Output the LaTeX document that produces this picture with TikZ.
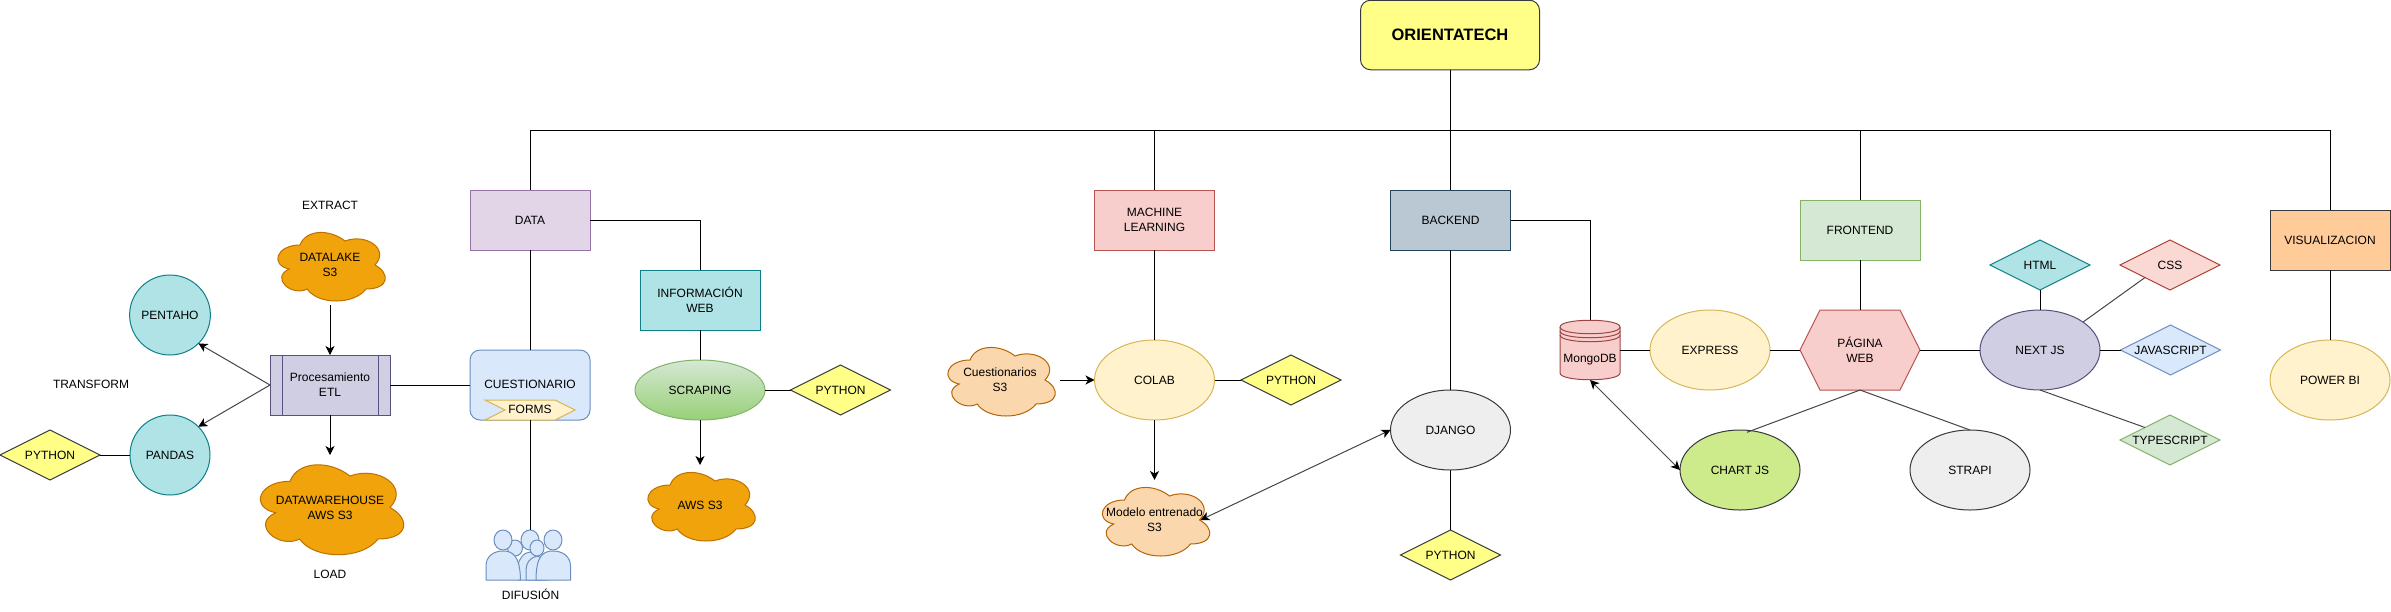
\documentclass[tikz,border=0pt]{standalone}
\usepackage{fontspec}
\setmainfont{Liberation Sans}
\usetikzlibrary{shapes.geometric,arrows.meta}
\definecolor{yelF}{HTML}{FFFF88}\definecolor{darkS}{HTML}{36393D}
\definecolor{purF}{HTML}{E1D5E7}\definecolor{purS}{HTML}{9673A6}
\definecolor{bluF}{HTML}{DAE8FC}\definecolor{bluS}{HTML}{6C8EBF}
\definecolor{creF}{HTML}{FFF2CC}\definecolor{creS}{HTML}{D6B656}
\definecolor{teaF}{HTML}{B0E3E6}\definecolor{teaS}{HTML}{0E8088}
\definecolor{grnF}{HTML}{D5E8D4}\definecolor{grnS}{HTML}{82B366}\definecolor{grnB}{HTML}{97D077}
\definecolor{redF}{HTML}{F8CECC}\definecolor{redS}{HTML}{B85450}
\definecolor{lavF}{HTML}{D0CEE2}\definecolor{lavS}{HTML}{56517E}
\definecolor{oraF}{HTML}{F0A30A}\definecolor{oraS}{HTML}{BD7000}
\definecolor{peaF}{HTML}{FAD7AC}\definecolor{peaS}{HTML}{B46504}
\definecolor{navF}{HTML}{BAC8D3}\definecolor{navS}{HTML}{23445D}
\definecolor{gryF}{HTML}{EEEEEE}\definecolor{limF}{HTML}{CDEB8B}
\definecolor{apiF}{HTML}{FFCC99}\definecolor{cssF}{HTML}{FAD9D5}\definecolor{cssS}{HTML}{AE4132}
\definecolor{diagS}{HTML}{454545}
\tikzset{
  base/.style={inner sep=0pt,outer sep=0pt,line width=1pt,align=center,font=\fontsize{12}{15}\selectfont,text=black},
  box/.style={base,rectangle,minimum width=120pt,minimum height=60pt},
  ell/.style={base,ellipse,minimum width=120pt,minimum height=80pt},
  dia/.style={base,diamond,aspect=2,minimum width=100pt,minimum height=50pt},
  plain/.style={base},
  wire/.style={line width=1pt,black},
  tipA/.tip={Stealth[length=9pt,width=9pt,inset=2.5pt,color=black,fill=black]},
  arrowline/.style={wire,-tipA},
  diag/.style={line width=1pt,diagS},
  diagarrow/.style={diag,tipA-tipA},
  diagtip/.style={diag,-tipA},
  pers/.style={line width=1pt,draw=bluS,fill=bluF,line join=round},
}
\newcommand{\cloudnode}[7]{% name,left,top,w,h,style,text
  \begin{scope}[shift={(#2,#3)},x=#4pt,y=-#5pt]
    \path[line width=1pt,#6] (0.25,0.25)
      .. controls (0.05,0.25) and (0,0.5) .. (0.16,0.55)
      .. controls (0,0.66) and (0.18,0.9) .. (0.31,0.8)
      .. controls (0.4,1) and (0.7,1) .. (0.8,0.8)
      .. controls (1,0.8) and (1,0.6) .. (0.875,0.5)
      .. controls (1,0.3) and (0.8,0.1) .. (0.625,0.2)
      .. controls (0.5,0.05) and (0.3,0.05) .. (0.25,0.25) -- cycle;
    \node[base,rectangle,minimum width=#4pt,minimum height=#5pt] (#1) at (0.5,0.5) {#7};
  \end{scope}}
\begin{document}
\begin{tikzpicture}[x=1pt,y=-1pt]
\useasboundingbox (0,0) rectangle (2391,611);
\coordinate (busL) at (530,130);
\coordinate (busR) at (2330,130);
% --- top
\node[base,rectangle,rounded corners=10pt,minimum width=179pt,minimum height=69.5pt,draw=darkS,fill=yelF,font=\fontsize{16.5}{18}\selectfont\bfseries] (root) at (1450,35) {ORIENTATECH};
% --- main boxes
\node[box,draw=purS,fill=purF] (data) at (530,220) {DATA};
\node[box,draw=redS,fill=redF] (ml) at (1154.5,220) {MACHINE\\LEARNING};
\node[box,draw=navS,fill=navF] (backend) at (1450.5,220) {BACKEND};
\node[box,draw=grnS,fill=grnF] (frontend) at (1860,230) {FRONTEND};
\node[box,draw=darkS,fill=apiF] (visual) at (2330,240) {VISUALIZACION};
% --- data branch
\node[base,rectangle,rounded corners=10pt,minimum width=120pt,minimum height=70pt,draw=bluS,fill=bluF] (cues) at (530,385) {};
\node[plain] (cuestxt) at (530,384) {CUESTIONARIO};
\path[line width=1pt,draw=creS,fill=creF] (485,400) -- (555,400) -- (575,410) -- (555,420) -- (485,420) -- (505,410) -- cycle;
\node[plain] (forms) at (530,409) {FORMS};
\node[box,draw=teaS,fill=teaF] (info) at (700,300) {INFORMACIÓN\\WEB};
\node[ell,minimum width=130pt,minimum height=60pt,draw=grnS,top color=grnF,bottom color=grnB] (scrap) at (700,390) {SCRAPING};
\node[dia,draw=darkS,fill=yelF] (pyscrap) at (840.5,390) {\makebox[0pt]{PYTHON}};
\cloudnode{aws}{640}{465}{120}{80}{draw=oraS,fill=oraF}{AWS S3}
% people
\begin{scope}
  \draw[pers] (530,540) circle[x radius=9pt,y radius=10pt];
  \draw[pers] (515,548) circle[x radius=7.5pt,y radius=8pt];
  \draw[pers] (518,580) -- (518,566) .. controls (518,560) and (524,552) .. (530,552) .. controls (536,552) and (542,560) .. (542,566) -- (542,580) -- cycle;
  \draw[pers] (526,580) -- (526,572) .. controls (526,562) and (530,558) .. (537,556) .. controls (544,558) and (548,562) .. (548,572) -- (548,580) -- cycle;
  \draw[pers] (537,548) circle[x radius=7pt,y radius=8pt];
  \draw[pers] (486,580) -- (486,566) .. controls (486,556) and (494,551) .. (503,551) .. controls (513,551) and (520,556) .. (520.5,580) -- cycle;
  \draw[pers] (503,540) circle[x radius=9pt,y radius=10pt];
  \draw[pers] (536,580) .. controls (536,556) and (543,551) .. (553,551) .. controls (562,551) and (570.5,556) .. (570.5,566) -- (570.5,580) -- cycle;
  \draw[pers] (553,540) circle[x radius=9pt,y radius=10pt];
\end{scope}
\node[base,rectangle,minimum width=86pt,minimum height=50pt] (people) at (528,555) {};
\node[plain] (difusion) at (530.5,594) {DIFUSIÓN};
% --- ETL
\node[base,rectangle,minimum width=120pt,minimum height=60pt,draw=lavS,fill=lavF] (etl) at (330,385) {Procesamiento\\ETL};
\draw[line width=1pt,lavS] ([xshift=12pt]etl.north west) -- ([xshift=12pt]etl.south west);
\draw[line width=1pt,lavS] ([xshift=-12pt]etl.north east) -- ([xshift=-12pt]etl.south east);
\cloudnode{dlake}{270}{225}{120}{80}{draw=oraS,fill=oraF}{DATALAKE\\S3}
\cloudnode{dware}{250}{455}{160}{105}{draw=oraS,fill=oraF}{DATAWAREHOUSE\\AWS S3}
\node[ell,minimum width=80pt,draw=teaS,fill=teaF] (pentaho) at (170,315) {PENTAHO};
\node[ell,minimum width=80pt,draw=teaS,fill=teaF] (pandas) at (170,455) {PANDAS};
\node[dia,draw=darkS,fill=yelF] (pypandas) at (50,455) {\makebox[0pt]{PYTHON}};
\node[plain] (extract) at (330,205) {EXTRACT};
\node[plain] (transform) at (91,384) {TRANSFORM};
\node[plain] (load) at (330,574) {LOAD};
% --- ML branch
\node[ell,draw=creS,fill=creF] (colab) at (1154.5,380) {COLAB};
\node[dia,draw=darkS,fill=yelF] (pycolab) at (1291,380) {\makebox[0pt]{PYTHON}};
\cloudnode{cuecloud}{940}{340}{120}{80}{draw=peaS,fill=peaF}{Cuestionarios\\S3}
\cloudnode{modelo}{1094.5}{480}{120}{80}{draw=peaS,fill=peaF}{Modelo entrenado\\S3}
% --- backend branch
\node[ell,draw=darkS,fill=gryF] (django) at (1450.5,430) {DJANGO};
\node[dia,draw=darkS,fill=yelF] (pydjango) at (1450.5,555) {\makebox[0pt]{PYTHON}};
\path[line width=1pt,draw=redS!85!black,fill=redF] (1560,327)
  .. controls (1560,318) and (1620,318) .. (1620,327) -- (1620,373)
  .. controls (1620,382) and (1560,382) .. (1560,373) -- cycle;
\draw[line width=1pt,redS!85!black] (1560,327) .. controls (1560,336) and (1620,336) .. (1620,327)
  (1560,331) .. controls (1560,340) and (1620,340) .. (1620,331)
  (1560,335) .. controls (1560,344) and (1620,344) .. (1620,335);
\node[base,rectangle,minimum width=60pt,minimum height=60pt] (mongo) at (1590,350) {};
\node[plain] (mongotxt) at (1590,360) {MongoDB};
\node[ell,draw=creS,fill=creF] (express) at (1710,350) {EXPRESS};
% --- frontend branch
\path[line width=1pt,draw=redS,fill=redF] (1800,350) -- (1820,310) -- (1900,310) -- (1920,350) -- (1900,390) -- (1820,390) -- cycle;
\node[base,rectangle,minimum width=120pt,minimum height=80pt] (pagina) at (1860,350) {PÁGINA\\WEB};
\node[ell,draw=lavS,fill=lavF] (nextjs) at (2040,350) {NEXT JS};
\node[ell,draw=darkS,fill=limF] (chart) at (1740,470) {CHART JS};
\node[ell,draw=darkS,fill=gryF] (strapi) at (1970,470) {STRAPI};
\node[dia,draw=teaS,fill=teaF] (html) at (2040,265) {\makebox[0pt]{HTML}};
\node[dia,draw=cssS,fill=cssF] (css) at (2170,265) {\makebox[0pt]{CSS}};
\node[dia,draw=bluS,fill=bluF] (js) at (2170.5,350) {\makebox[0pt]{JAVASCRIPT}};
\node[dia,draw=grnS,fill=grnF] (ts) at (2170,440) {\makebox[0pt]{TYPESCRIPT}};
\node[ell,draw=creS,fill=creF] (powerbi) at (2330,380) {POWER BI};
% --- connectors
\draw[wire] (busL) -- (busR);
\draw[wire] (root.south) -- (root.south |- busL) ;
\draw[wire] (busL) -- (data.north);
\draw[wire] (ml.north |- busL) -- (ml.north);
\draw[wire] (backend.north |- busL) -- (backend.north);
\draw[wire] (frontend.north |- busL) -- (frontend.north);
\draw[wire] (busR) -- (visual.north);
\draw[wire] (data.south) -- (cues.north);
\draw[wire] (cues.south) -- (cues.south |- people.north);
\draw[wire] (etl.east) -- (cues.west);
\draw[wire] (data.east) -| (info.north);
\draw[wire] (info.south) -- (scrap.north);
\draw[wire] (scrap.east) -- (pyscrap.west);
\draw[arrowline] (scrap.south) -- (aws.north);
\draw[arrowline] (dlake.south) -- (etl.north);
\draw[arrowline] (etl.south) -- (dware.north);
\draw[diagtip] (etl.west) -- (pentaho.-45);
\draw[diagtip] (etl.west) -- (pandas.45);
\draw[wire] (pypandas.east) -- (pandas.west);
\draw[wire] (ml.south) -- (colab.north);
\draw[wire] (colab.east) -- (pycolab.west);
\draw[arrowline] (cuecloud.east) -- (colab.west);
\draw[arrowline] (colab.south) -- (modelo.north);
\draw[diagarrow] ([xshift=-14pt]modelo.east) -- (django.west);
\draw[wire] (backend.south) -- (django.north);
\draw[wire] (django.south) -- (pydjango.north);
\draw[wire] (backend.east) -| (mongo.north);
\draw[wire] (mongo.east) -- (express.west);
\draw[wire] (express.east) -- (pagina.west);
\draw[wire] (frontend.south) -- (pagina.north);
\draw[wire] (pagina.east) -- (nextjs.west);
\draw[diagarrow] (mongo.south) -- (chart.west);
\draw[diag] (pagina.south) -- ([yshift=-2pt]chart.80);
\draw[diag] (pagina.south) -- (strapi.north);
\draw[wire] (html.south) -- (nextjs.north);
\draw[diag] (nextjs.33) -- (css.south west);
\draw[wire] (nextjs.east) -- (js.west);
\draw[diag] (nextjs.south) -- (ts.north west);
\draw[wire] (visual.south) -- (powerbi.north);
\end{tikzpicture}
\end{document}
